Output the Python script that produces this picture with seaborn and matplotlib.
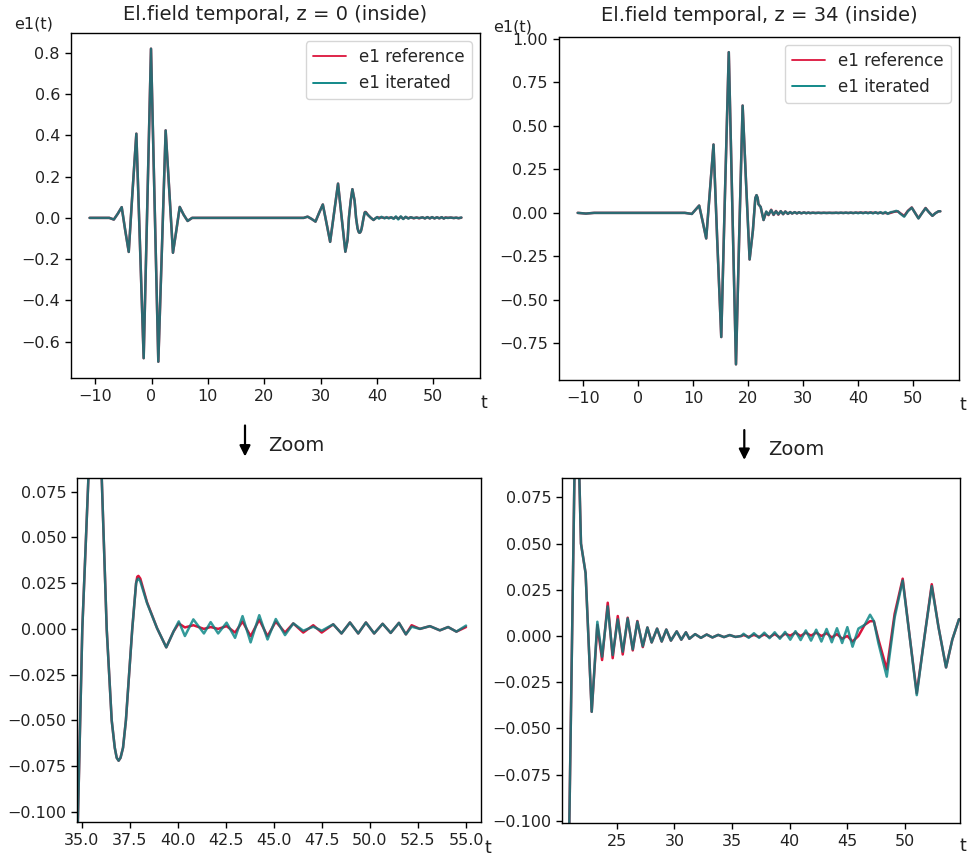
import numpy as np
import pandas as pd
import matplotlib
matplotlib.use("Agg")
import matplotlib.pyplot as plt
import seaborn as sns

# ---------------- data ----------------
# z = 0
t_z0 = [-11, -9, -7.5, -6.7, -6.0, -5.3, -4.7, -4.05, -3.4, -2.7, -2.05, -1.4, -0.75, -0.1,
        0.55, 1.2, 1.85, 2.5, 3.15, 3.8, 4.4, 5.0, 5.7, 6.4, 7.2, 10, 15, 20, 25,
        27.0, 27.7, 28.4, 29.1, 29.75, 30.4, 31.05, 31.7, 32.4, 33.1, 33.75, 34.4,
        34.8, 35.03, 35.35, 35.65, 36.04, 36.3, 36.56, 36.72, 36.82, 36.92, 37.02, 37.15, 37.3, 37.63,
        37.83, 37.89, 37.95, 38.05, 38.4, 38.92, 39.4, 39.78, 40.05, 40.37, 40.81, 41.36, 41.71, 42.1,
        42.54, 42.98, 43.37, 43.79, 44.24, 44.67, 45.1, 45.58, 46.01, 46.53, 47.05, 47.49,
        48.09, 48.52, 48.96, 49.39, 49.79, 50.22, 50.66, 51.08, 51.51, 51.87, 52.17, 52.6,
        53.12, 53.64, 54.07, 54.5, 55.0]
ref_z0 = [0, 0, 0.0, -0.008, 0.02, 0.052, -0.056, -0.165, 0.12, 0.408, -0.135, -0.68, 0.07, 0.82,
          0.06, -0.697, -0.14, 0.424, 0.13, -0.169, -0.06, 0.053, 0.015, -0.015, 0.0, 0, 0, 0, 0,
          0.0, 0.006, -0.005, -0.018, 0.025, 0.065, -0.025, -0.116, 0.025, 0.166, 0.0, -0.164,
          -0.105, 0.0, 0.083, 0.139, 0.083, 0.0, -0.05, -0.065, -0.0705, -0.0721, -0.0705, -0.065, -0.05, 0.0,
          0.025, 0.0285, 0.029, 0.0275, 0.0145, 0.0004, -0.0101, -0.0014, 0.003, 0.0008, 0.002, 0.0, 0.001, 0.0,
          0.0015, -0.002, 0.004, -0.004, 0.005, -0.004, 0.004, -0.002, 0.003, -0.002, 0.002, -0.002,
          0.0025, -0.0025, 0.0035, -0.0025, 0.0035, -0.0025, 0.0028, -0.0022, 0.0033, -0.003, 0.002, 0.0,
          0.0015, -0.0008, 0.001, -0.0015, 0.001]
it_z0 = [0, 0, 0.0, -0.008, 0.02, 0.052, -0.056, -0.165, 0.12, 0.408, -0.135, -0.68, 0.07, 0.82,
         0.06, -0.697, -0.14, 0.424, 0.13, -0.169, -0.06, 0.053, 0.015, -0.015, 0.0, 0, 0, 0, 0,
         0.0, 0.006, -0.005, -0.018, 0.025, 0.065, -0.025, -0.116, 0.025, 0.166, 0.0, -0.164,
         -0.105, 0.0, 0.083, 0.139, 0.083, 0.0, -0.05, -0.065, -0.0705, -0.0721, -0.0705, -0.065, -0.05, 0.0,
         0.025, 0.027, 0.0275, 0.026, 0.0141, 0.0004, -0.0101, -0.0014, 0.0041, -0.0039, 0.0052, -0.0025, 0.0037, -0.0025,
         0.0034, -0.0049, 0.007, -0.0074, 0.0075, -0.0058, 0.0054, -0.0034, 0.003, -0.001, 0.0012, -0.001,
         0.0025, -0.0025, 0.0035, -0.0025, 0.0035, -0.0025, 0.0028, -0.0022, 0.0033, -0.003, 0.0012, 0.0,
         0.0015, -0.0008, 0.001, -0.0015, 0.0018]

# z = 34
t_z34 = [-11, -9.5, -8, -5, 0, 5, 8.5, 9.78, 10.5, 11.11, 11.75, 12.39, 13.05, 13.72, 14.4, 15.13,
         15.8, 16.5, 17.15, 17.81, 18.4, 19.02, 19.65, 20.29, 20.89, 21.33, 21.55, 21.76, 21.9,
         22.1, 22.3, 22.83, 23.32, 23.73, 24.22, 24.65, 25.09, 25.52, 25.95, 26.39, 26.79, 27.26,
         27.66, 28.03, 28.5, 28.9, 29.3, 29.7, 30.2, 30.6, 31.0, 31.3, 31.8, 32.3, 32.8, 33.3,
         33.8, 34.3, 34.8, 35.3, 35.8, 36.0, 36.45, 36.9, 37.35, 37.8, 38.25, 38.7, 39.15, 39.6,
         40.05, 40.5, 40.95, 41.4, 41.85, 42.3, 42.75, 43.2, 43.65, 44.1, 44.55, 45.0, 45.45,
         45.96, 46.5, 46.97, 47.3, 47.7, 48.42, 49.1, 49.8, 50.4, 51.02, 51.7, 52.32, 52.9,
         53.56, 54.1, 54.68, 55.0]
ref_z34 = [0, -0.004, 0.0, 0.0, 0, 0, 0.0, -0.006, 0.02, 0.042, -0.05, -0.147, 0.12, 0.393, -0.16, -0.714,
           0.1, 0.924, 0.03, -0.871, -0.13, 0.617, 0.17, -0.268, -0.101, 0.085, 0.102, 0.085, 0.05,
           0.042, 0.034, -0.041, 0.006, -0.013, 0.018, -0.012, 0.0108, -0.010, 0.0099, -0.0078, 0.0081, -0.006,
           0.0046, -0.0035, 0.004, -0.003, 0.0035, -0.0025, 0.0025, -0.002, 0.002, -0.0015, 0.001, -0.001, 0.0008, -0.0008,
           0.0006, -0.0006, 0.0005, -0.0005, 0.0, 0.0005, -0.0005, 0.0006, -0.0005, 0.0008, -0.0006, 0.001, -0.0008, 0.0012,
           0.0002, 0.0018, 0.0, 0.0018, 0.0002, 0.0018, 0.0, 0.0015, -0.0008, 0.001, -0.0015, 0.0, -0.003,
           0.0, 0.006, 0.008, 0.008, -0.002, -0.018, 0.012, 0.031, 0.0, -0.031, 0.0, 0.028, 0.005,
           -0.017, -0.002, 0.009, 0.009]
it_z34 = [0, -0.004, 0.0, 0.0, 0, 0, 0.0, -0.006, 0.02, 0.042, -0.05, -0.147, 0.12, 0.393, -0.16, -0.714,
          0.1, 0.924, 0.03, -0.871, -0.13, 0.617, 0.17, -0.268, -0.101, 0.085, 0.102, 0.085, 0.05,
          0.042, 0.034, -0.041, 0.0077, -0.0112, 0.016, -0.0103, 0.009, -0.0085, 0.0095, -0.0072, 0.0078, -0.0055,
          0.0046, -0.0035, 0.004, -0.003, 0.0035, -0.0025, 0.0025, -0.002, 0.002, -0.0015, 0.001, -0.001, 0.0008, -0.0008,
          0.0006, -0.0006, 0.0005, -0.0005, 0.0, 0.0012, -0.001, 0.0015, -0.001, 0.0018, -0.0012, 0.002, -0.0015, 0.0022,
          -0.002, 0.0026, -0.0022, 0.003, -0.0025, 0.0034, -0.003, 0.0038, -0.0034, 0.0042, -0.0038, 0.0048, -0.0058,
          0.004, 0.006, 0.0115, 0.008, -0.004, -0.022, 0.01, 0.030, 0.0, -0.032, 0.0, 0.027, 0.005,
          -0.017, -0.002, 0.009, 0.009]

labels = ["e1 reference", "e1 iterated"]
titles = ["El.field temporal, z = 0 (inside)", "El.field temporal, z = 34 (inside)"]
xticks_top = [-10, 0, 10, 20, 30, 40, 50]
yticks_tl = [-0.6, -0.4, -0.2, 0.0, 0.2, 0.4, 0.6, 0.8]
yticks_tr = [-0.75, -0.50, -0.25, 0.00, 0.25, 0.50, 0.75, 1.00]
xticks_bl = [35.0, 37.5, 40.0, 42.5, 45.0, 47.5, 50.0, 52.5, 55.0]
xticks_br = [25, 30, 35, 40, 45, 50]
yticks_bottom = [-0.100, -0.075, -0.050, -0.025, 0.000, 0.025, 0.050, 0.075]

# ---------------- style ----------------
sns.set_theme(style="ticks")
plt.rcParams["font.family"] = ["DejaVu Sans"]
plt.rcParams.update({
    "axes.edgecolor": "black",
    "axes.linewidth": 1.0,
    "xtick.color": "black",
    "ytick.color": "black",
    "xtick.labelcolor": "#222222",
    "ytick.labelcolor": "#222222",
    "xtick.labelsize": 11.5,
    "ytick.labelsize": 11.5,
    "xtick.major.size": 4.5,
    "ytick.major.size": 4.5,
    "xtick.major.width": 1.0,
    "ytick.major.width": 1.0,
})

W, H = 969, 857
fig = plt.figure(figsize=(W / 100, H / 100), dpi=100)


def add_ax(l, t, r, b):
    return fig.add_axes([l / W, 1 - b / H, (r - l) / W, (b - t) / H])


def ftxt(x, y, s, **kw):
    fig.text(x / W, 1 - y / H, s, ha="center", va="center", color="#222222", **kw)


ax_tl = add_ax(71, 33, 480, 378)
ax_tr = add_ax(559, 36.7, 959, 380)
ax_bl = add_ax(77.3, 477.7, 481, 822.3)
ax_br = add_ax(562.3, 478.3, 960, 822.7)

df0 = pd.DataFrame({"t": t_z0 + t_z0, "e1": ref_z0 + it_z0,
                    "series": [labels[0]] * len(t_z0) + [labels[1]] * len(t_z0)})
df34 = pd.DataFrame({"t": t_z34 + t_z34, "e1": ref_z34 + it_z34,
                     "series": [labels[0]] * len(t_z34) + [labels[1]] * len(t_z34)})

colors = {labels[0]: "#DC143C", labels[1]: "#008080"}


def draw(ax, df, legend):
    for lab in labels:
        sub = df[df["series"] == lab]
        sns.lineplot(data=sub, x="t", y="e1", ax=ax, color=colors[lab], label=lab if legend else None,
                     sort=False, estimator=None, lw=1.8,
                     alpha=1.0 if lab == labels[0] else 0.8, legend=legend)
    ax.set_xlabel("")
    ax.set_ylabel("")


draw(ax_tl, df0, True)
draw(ax_tr, df34, True)
draw(ax_bl, df0, False)
draw(ax_br, df34, False)

for ax in (ax_bl, ax_br):
    leg = ax.get_legend()
    if leg is not None:
        leg.remove()

# top-left
ax_tl.set_xticks(xticks_top)
ax_tl.set_yticks(yticks_tl)
ax_tl.set_xlim(-14.3, 58.3)
ax_tl.set_ylim(-0.776, 0.896)
ax_tl.set_title(titles[0], fontsize=14, pad=9, color="#222222")

# top-right
ax_tr.set_xticks(xticks_top)
ax_tr.set_yticks(yticks_tr)
ax_tr.set_xlim(-14.4, 58.4)
ax_tr.set_ylim(-0.961, 1.013)
ax_tr.set_title(titles[1], fontsize=14, pad=11, color="#222222")

for ax in (ax_tl, ax_tr):
    leg = ax.legend(loc="upper right", fontsize=12, frameon=True, handlelength=2.0,
                    borderaxespad=0.5)
    for ln in leg.get_lines():
        ln.set_linewidth(1.3)
        ln.set_alpha(1.0)

# bottom-left
ax_bl.set_xticks(xticks_bl)
ax_bl.set_yticks(yticks_bottom)
ax_bl.set_xlim(34.77, 55.78)
ax_bl.set_ylim(-0.1058, 0.0827)

# bottom-right
ax_br.set_xticks(xticks_br)
ax_br.set_yticks(yticks_bottom)
ax_br.set_xlim(20.28, 54.77)
ax_br.set_ylim(-0.101, 0.0853)

# axis labels placed as free text
ftxt(34, 24, "e1(t)", fontsize=11.5)
ftxt(513, 27, "e1(t)", fontsize=11.5)
for (x, y) in [(484, 403), (963, 405), (488, 848), (963, 846)]:
    ftxt(x, y, "t", fontsize=12.5)

# zoom arrows
for (x, y0, y1, tx, ty) in [(245, 422.7, 459.3, 296, 445), (744.3, 427.3, 462.7, 796, 449.3)]:
    ax_tl.annotate("", xy=(x / W, 1 - y1 / H), xytext=(x / W, 1 - y0 / H),
                   xycoords="figure fraction", textcoords="figure fraction",
                   arrowprops=dict(arrowstyle="-|>", color="black", lw=1.6, mutation_scale=16),
                   annotation_clip=False)
    ftxt(tx, ty, "Zoom", fontsize=14)

fig.savefig("out.png", dpi=100, facecolor="white")
